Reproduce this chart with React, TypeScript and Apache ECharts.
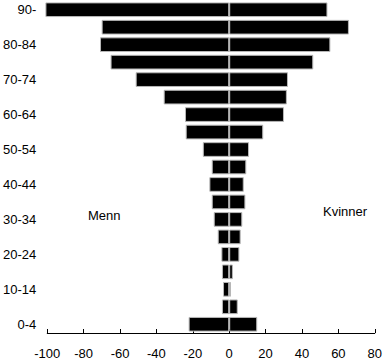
import React, { useEffect, useRef } from "react";
import * as echarts from "echarts";

const categories = [
  "0-4", "5-9", "10-14", "15-19", "20-24", "25-29", "30-34", "35-39", "40-44",
  "45-49", "50-54", "55-59", "60-64", "65-69", "70-74", "75-79", "80-84", "85-89", "90-",
];
const menn = [
  -22.3, -4.0, -3.4, -4.0, -4.3, -6.3, -8.5, -9.6, -10.9,
  -9.6, -14.5, -23.9, -24.3, -36.0, -51.4, -65.2, -71.0, -70.1, -101,
];
const kvinner = [
  15.4, 4.7, 0.9, 2.0, 5.6, 6.3, 7.2, 8.9, 8.0,
  9.4, 10.9, 18.7, 30.1, 31.7, 32.3, 46.2, 55.6, 65.8, 54.0,
];
const xTicks = { min: -100, max: 80, interval: 20 };
const FONT = "Liberation Sans, Arial, sans-serif";

export default function App() {
  const ref = useRef<HTMLDivElement>(null);
  useEffect(() => {
    if (!ref.current) return;
    const chart = echarts.init(ref.current, undefined, { renderer: "svg" });
    const barStyle = { color: "#000", borderColor: "#b8b8b8", borderWidth: 1 };
    chart.setOption({
      animation: false,
      grid: { left: 46, right: 8, top: 1, bottom: 27, containLabel: false },
      xAxis: {
        type: "value",
        min: xTicks.min,
        max: xTicks.max,
        interval: xTicks.interval,
        splitLine: { show: false },
        axisLine: { show: true, lineStyle: { color: "#000", width: 1 } },
        axisTick: { show: true, inside: true, length: 4, lineStyle: { color: "#000" } },
        axisLabel: { color: "#000", fontSize: 13, fontFamily: FONT, margin: 14 },
      },
      yAxis: {
        type: "category",
        data: categories,
        axisLine: { show: false },
        axisTick: { show: false },
        splitLine: { show: false },
        axisLabel: { interval: 1, color: "#000", fontSize: 13, fontFamily: FONT, margin: 11 },
      },
      series: [
        {
          type: "bar",
          name: "Menn",
          stack: "total",
          data: menn,
          barCategoryGap: "16%",
          itemStyle: barStyle,
          clip: false,
        },
        {
          type: "bar",
          name: "Kvinner",
          stack: "total",
          data: kvinner,
          barCategoryGap: "16%",
          itemStyle: barStyle,
          clip: false,
        },
      ],
      graphic: [
        {
          type: "text",
          left: 88,
          top: 209,
          style: { text: "Menn", fill: "#000", font: `13px ${FONT}` },
        },
        {
          type: "text",
          left: 323,
          top: 205,
          style: { text: "Kvinner", fill: "#000", font: `13px ${FONT}` },
        },
      ],
    });
    return () => chart.dispose();
  }, []);
  return (
    <div
      ref={ref}
      style={{ position: "fixed", left: 0, top: 0, width: 385, height: 360, background: "#fff" }}
    />
  );
}
